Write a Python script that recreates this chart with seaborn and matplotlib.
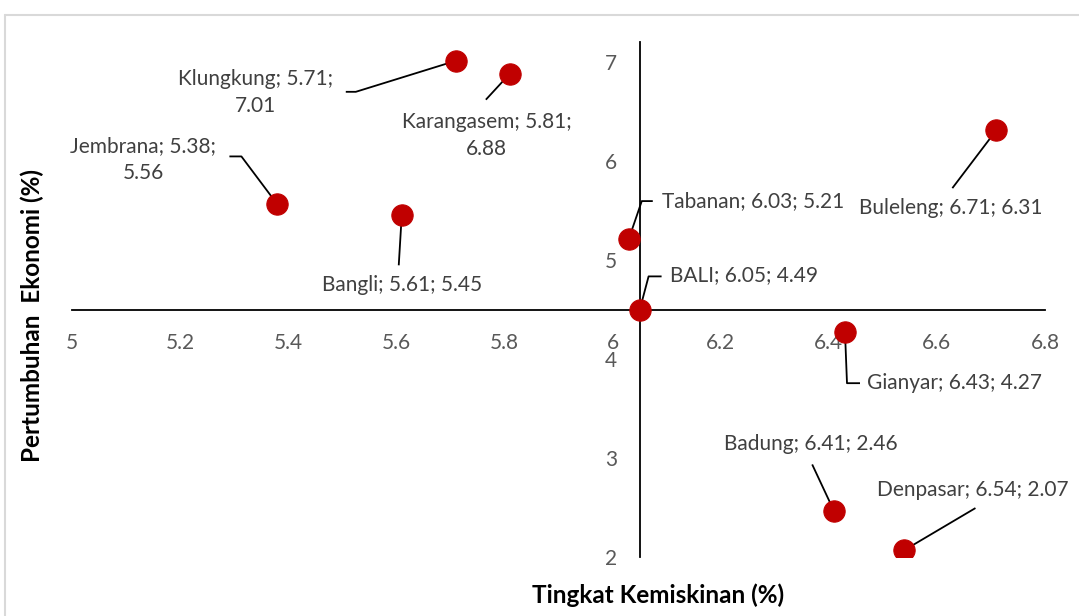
import numpy as np
import pandas as pd
import matplotlib
matplotlib.use("Agg")
import matplotlib.pyplot as plt
import matplotlib.transforms as mtransforms
from matplotlib.lines import Line2D
import seaborn as sns

# Regency data: poverty rate (x) vs. economic growth (y)
regions = ["Klungkung", "Karangasem", "Jembrana", "Bangli", "Tabanan",
           "BALI", "Buleleng", "Gianyar", "Badung", "Denpasar"]
kemiskinan = [5.71, 5.81, 5.38, 5.61, 6.03, 6.05, 6.71, 6.43, 6.41, 6.54]
pertumbuhan = [7.01, 6.88, 5.56, 5.45, 5.21, 4.49, 6.31, 4.27, 2.46, 2.07]

x_ticks = [5, 5.2, 5.4, 5.6, 5.8, 6, 6.2, 6.4, 6.6, 6.8]
x_tick_labels = ["5", "5.2", "5.4", "5.6", "5.8", "6", "6.2", "6.4", "6.6", "6.8"]
y_ticks = [2, 3, 4, 5, 6, 7]
y_tick_labels = ["2", "3", "4", "5", "6", "7"]

# Label placement (pixel offsets from each point): text anchor, alignment,
# and the leader-line vertices running from the label back to the point.
label_layout = {
    "Klungkung":  dict(text=(-200, 32), ha="center", wrap=True,
                       leader=[(-110, 31), (-100, 31), (0, 0)]),
    "Karangasem": dict(text=(-23, 62), ha="center", wrap=True,
                       leader=[(-24, 26), (0, 0)]),
    "Jembrana":   dict(text=(-134, -45), ha="center", wrap=True,
                       leader=[(-48, -48), (-36, -48), (0, 0)]),
    "Bangli":     dict(text=(0, 70), ha="center", wrap=False,
                       leader=[(-3, 50), (0, 0)]),
    "Tabanan":    dict(text=(33, -38), ha="left", wrap=False,
                       leader=[(24, -38), (13, -38), (0, 0)]),
    "BALI":       dict(text=(30, -35), ha="left", wrap=False,
                       leader=[(22, -34), (9, -34), (0, 0)]),
    "Buleleng":   dict(text=(-46, 78), ha="center", wrap=False,
                       leader=[(-44, 58), (0, 0)]),
    "Gianyar":    dict(text=(22, 51), ha="left", wrap=False,
                       leader=[(15, 51), (2, 51), (0, 0)]),
    "Badung":     dict(text=(-23, -67), ha="center", wrap=False,
                       leader=[(-22, -47), (0, 0)]),
    "Denpasar":   dict(text=(68, -60), ha="center", wrap=False,
                       leader=[(71, -42), (0, 0)]),
}

sns.set_style("white")
plt.rcParams["font.family"] = ["Lato", "DejaVu Sans"]

W, H, DPI = 1079, 616, 100
fig = plt.figure(figsize=(W / DPI, H / DPI), dpi=DPI)
ax = fig.add_axes([72 / W, 1 - 557 / H, (1045 - 72) / W, (557 - 42) / H])

df = pd.DataFrame({"region": regions, "x": kemiskinan, "y": pertumbuhan})
marker_color = "#C00000"
sns.scatterplot(data=df, x="x", y="y", ax=ax, color=marker_color, s=235,
                edgecolor=marker_color, linewidth=0.8, zorder=5, legend=False)

ax.set_xlim(5, 6.8)
ax.set_ylim(2, 7.2)

# Axes cross at the provincial (BALI) values
bali_x = kemiskinan[regions.index("BALI")]
bali_y = pertumbuhan[regions.index("BALI")]
for side in ["top", "right"]:
    ax.spines[side].set_visible(False)
ax.spines["left"].set_position(("data", bali_x))
ax.spines["bottom"].set_position(("data", bali_y))
for side in ["left", "bottom"]:
    ax.spines[side].set_color("black")
    ax.spines[side].set_linewidth(1.3)
    ax.spines[side].set_zorder(2)

tick_color = "#595959"
ax.set_xticks(x_ticks)
ax.set_xticklabels(x_tick_labels)
ax.set_yticks(y_ticks)
ax.set_yticklabels(y_tick_labels)
ax.tick_params(axis="x", length=0, pad=16, labelsize=15, labelcolor=tick_color)
ax.tick_params(axis="y", length=0, pad=16, labelsize=15, labelcolor=tick_color)
ax.set_xlabel("")
ax.set_ylabel("")
ax.grid(False)

# Data labels with leader lines
label_color = "#404040"
for name, xv, yv in zip(regions, kemiskinan, pertumbuhan):
    lay = label_layout[name]
    if lay["wrap"]:
        txt = f"{name}; {xv:.2f};\n{yv:.2f}"
    else:
        txt = f"{name}; {xv:.2f}; {yv:.2f}"
    base = mtransforms.ScaledTranslation(xv, yv, ax.transData)
    pix = mtransforms.Affine2D().scale(1, -1) + base
    lx = [p[0] for p in lay["leader"]]
    ly = [p[1] for p in lay["leader"]]
    ax.add_line(Line2D(lx, ly, transform=pix, color="black", lw=1.3,
                       zorder=4, solid_capstyle="butt"))
    tx, ty = lay["text"]
    ax.text(tx, ty, txt, transform=pix, ha=lay["ha"], va="center",
            fontsize=15, color=label_color, linespacing=1.45,
            multialignment="center", zorder=6)

# Axis titles
fig.text(658 / W, 1 - 595 / H, "Tingkat Kemiskinan (%)", ha="center",
         va="center", fontsize=17.5, fontweight="bold", color="black")
fig.text(32 / W, 1 - 315 / H, "Pertumbuhan  Ekonomi (%)", ha="center",
         va="center", rotation=90, fontsize=17.5, fontweight="bold",
         color="black")

# Light chart-area frame
frame_color = "#D9D9D9"
fig.add_artist(Line2D([5 / W, 1], [1 - 15 / H, 1 - 15 / H],
                      transform=fig.transFigure, color=frame_color, lw=1.5))
fig.add_artist(Line2D([5 / W, 5 / W], [0, 1 - 15 / H],
                      transform=fig.transFigure, color=frame_color, lw=1.5))

fig.savefig("out.png", dpi=DPI, facecolor="white")
